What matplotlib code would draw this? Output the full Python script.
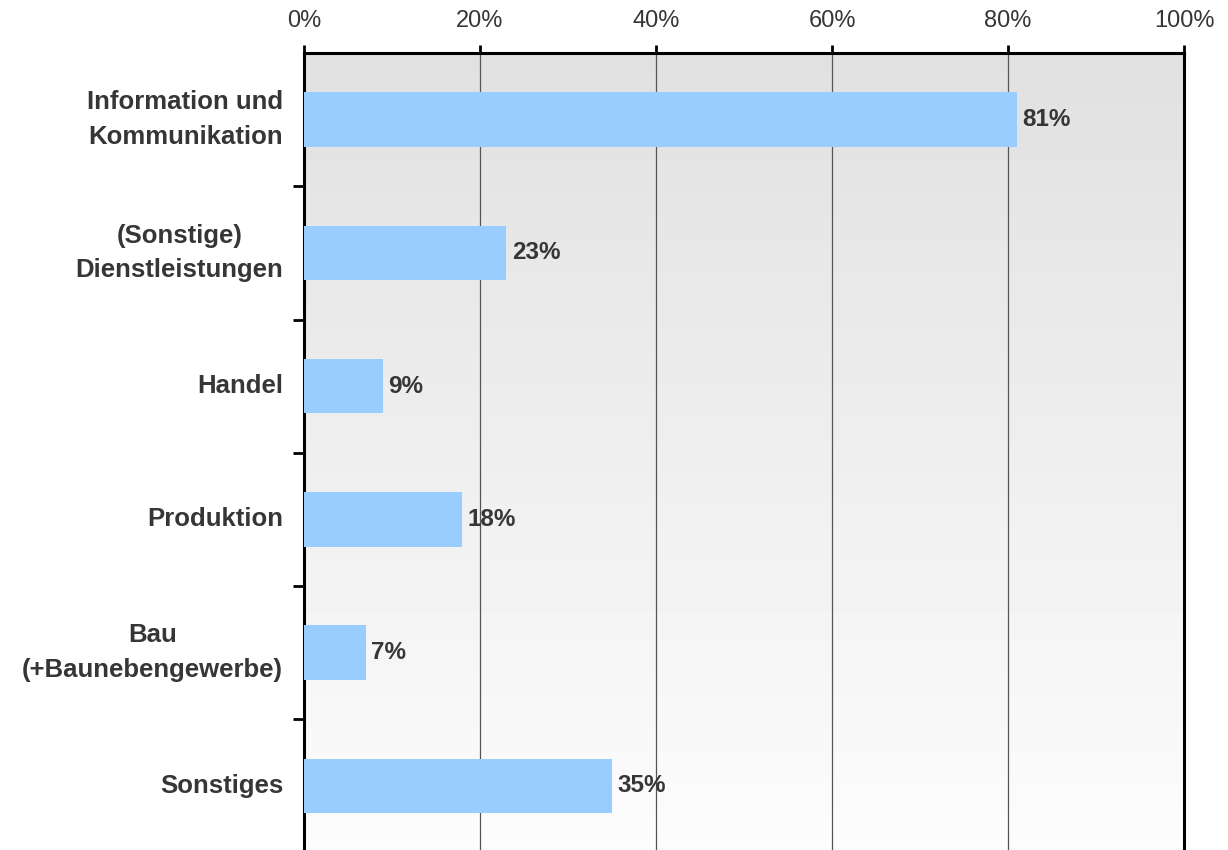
import numpy as np
import matplotlib
matplotlib.use("Agg")
import matplotlib.pyplot as plt
from matplotlib.ticker import FixedLocator

plt.rcParams['font.family'] = ['Liberation Sans', 'DejaVu Sans']

categories = [
    "Information und\nKommunikation",
    "(Sonstige)\nDienstleistungen",
    "Handel",
    "Produktion",
    "Bau\n(+Baunebengewerbe)",
    "Sonstiges",
]
values = [81, 23, 9, 18, 7, 35]
x_ticks = [0, 20, 40, 60, 80, 100]
x_tick_labels = ["0%", "20%", "40%", "60%", "80%", "100%"]

text_color = "#363636"
bar_color = "#99ccff"

fig = plt.figure(figsize=(12.28, 8.5), dpi=100)
ax = fig.add_axes([0.2476, -0.003, 0.9642 - 0.2476, 0.9376 + 0.003])

n = len(categories)
ypos = np.arange(n)

# vertical grey gradient behind the plot
grad = np.linspace(0.88, 0.99, 256).reshape(-1, 1)
ax.imshow(grad, cmap="gray", vmin=0, vmax=1, aspect="auto",
          extent=[0, 100, n - 0.5, -0.5], zorder=0, interpolation="bicubic")

ax.barh(ypos, values, height=0.41, color=bar_color, zorder=3)

for y, v in zip(ypos, values):
    ax.text(v + 0.6, y, f"{v}%", va="center", ha="left", fontsize=17.5,
            fontweight="bold", color=text_color, zorder=4)

ax.set_xlim(0, 100)
ax.set_ylim(n - 0.5, -0.5)

ax.xaxis.tick_top()
ax.set_xticks(x_ticks)
ax.set_xticklabels(x_tick_labels, fontsize=17, color=text_color)
ax.tick_params(axis="x", direction="out", length=6, width=2, color="black", pad=9)

ax.set_yticks(ypos)
ax.set_yticklabels(categories, fontsize=18.5, fontweight="bold", color=text_color,
                   ha="right", va="center", multialignment="center", linespacing=1.55)
ax.tick_params(axis="y", which="major", length=0, pad=15)
ax.yaxis.set_minor_locator(FixedLocator(np.arange(0.5, n - 0.5, 1.0)))
ax.tick_params(axis="y", which="minor", direction="out", length=8, width=2, color="black")

ax.grid(axis="x", color="#555555", linewidth=0.9, zorder=1)
ax.set_axisbelow(True)

for side in ["top", "left", "right"]:
    ax.spines[side].set_linewidth(2.2)
    ax.spines[side].set_color("black")
ax.spines["bottom"].set_visible(False)

fig.savefig("out.png", dpi=100)
